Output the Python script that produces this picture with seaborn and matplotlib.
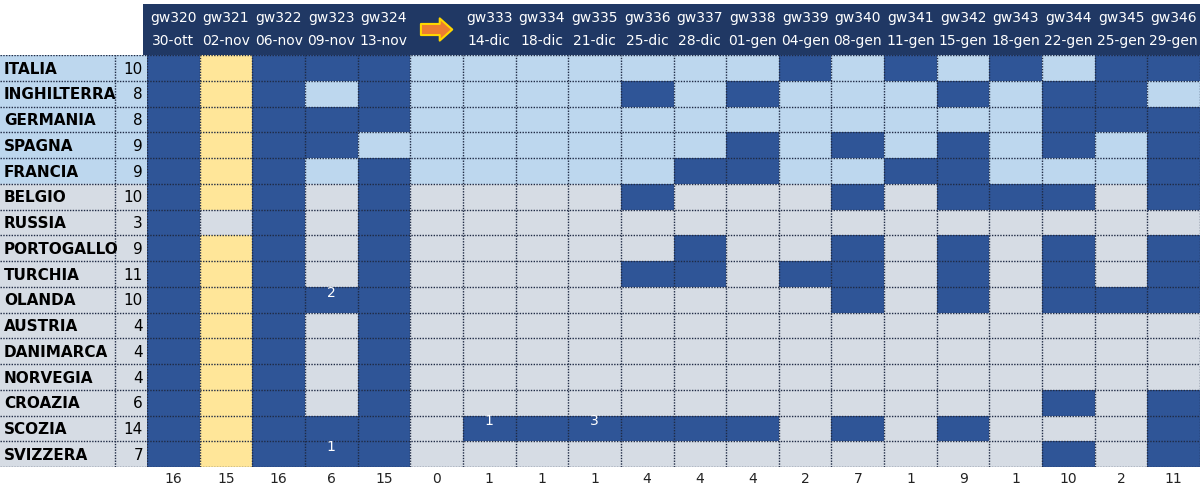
import numpy as np
import matplotlib
matplotlib.use("Agg")
import matplotlib.pyplot as plt
import seaborn as sns
from matplotlib.colors import ListedColormap

countries = ["ITALIA", "INGHILTERRA", "GERMANIA", "SPAGNA", "FRANCIA", "BELGIO", "RUSSIA",
             "PORTOGALLO", "TURCHIA", "OLANDA", "AUSTRIA", "DANIMARCA", "NORVEGIA",
             "CROAZIA", "SCOZIA", "SVIZZERA"]
row_totals = [10, 8, 8, 9, 9, 10, 3, 9, 11, 10, 4, 4, 4, 6, 14, 7]
gameweeks = ["gw320", "gw321", "gw322", "gw323", "gw324", "", "gw333", "gw334", "gw335",
             "gw336", "gw337", "gw338", "gw339", "gw340", "gw341", "gw342", "gw343",
             "gw344", "gw345", "gw346"]
dates = ["30-ott", "02-nov", "06-nov", "09-nov", "13-nov", "", "14-dic", "18-dic", "21-dic",
         "25-dic", "28-dic", "01-gen", "04-gen", "08-gen", "11-gen", "15-gen", "18-gen",
         "22-gen", "25-gen", "29-gen"]
col_totals = [16, 15, 16, 6, 15, 0, 1, 1, 1, 4, 4, 4, 2, 7, 1, 9, 1, 10, 2, 11]

# 1 = dark cell, 2 = yellow cell, 0 = empty
marks = [
    "12111000000010101011",  # ITALIA
    "12101000010100010110",  # INGHILTERRA
    "12111000000000000111",  # GERMANIA
    "12110000000101010101",  # SPAGNA
    "12101000001100110001",  # FRANCIA
    "12101000010001011101",  # BELGIO
    "10101000000000000000",  # RUSSIA
    "12101000001001010101",  # PORTOGALLO
    "12101000011011010101",  # TURCHIA
    "12111000000001010111",  # OLANDA
    "12101000000000000000",  # AUSTRIA
    "12101000000000000000",  # DANIMARCA
    "12101000000000000000",  # NORVEGIA
    "12101000000000000101",  # CROAZIA
    "12111011111101010001",  # SCOZIA
    "12111000000000000101",  # SVIZZERA
]
cell_labels = {(9, 3): "2", (15, 3): "1", (14, 6): "1", (14, 8): "3"}

LIGHT, GRAY, DARK, YELLOW, HEAD = "#BDD7EE", "#D6DCE4", "#2F5597", "#FFE699", "#203864"

codes = np.array([[int(c) for c in r] for r in marks])
# background code by row: 0 light blue (top 5), 1 gray
bg = np.array([0 if i < 5 else 1 for i in range(len(countries))])[:, None]
grid = np.where(codes == 1, 2, np.where(codes == 2, 3, bg))
annot = np.full(grid.shape, "", dtype=object)
for (r, c), t in cell_labels.items():
    annot[r, c] = t

cmap = ListedColormap([LIGHT, GRAY, DARK, YELLOW])
fig = plt.figure(figsize=(12, 4.93), dpi=100)
x0, ytop, ybot = 147 / 1200, 1 - 55 / 493, 1 - 467 / 493
ax = fig.add_axes([x0, ybot, 1 - x0, ytop - ybot])
sns.heatmap(grid, ax=ax, cmap=cmap, vmin=-0.5, vmax=3.5, cbar=False,
            annot=annot, fmt="", annot_kws={"color": "white", "fontsize": 10, "va": "bottom"})
ax.set_xticks([]); ax.set_yticks([])
nr, nc = grid.shape
for i in range(nr + 1):
    ax.axhline(i, color="#1F2A44", lw=1, ls=(0, (1, 1)))
for j in range(nc + 1):
    ax.axvline(j, color="#1F2A44", lw=1, ls=(0, (1, 1)))

# header
hx0 = 143 / 1200
hax = fig.add_axes([hx0, ytop, 1 - hx0, 1 - ytop - 4 / 493])
hax.set_facecolor(HEAD)
off = (147 - 143) / (1200 - 147) * nc
hax.set_xlim(-off, nc); hax.set_ylim(0, 2)
hax.set_xticks([]); hax.set_yticks([])
for s in hax.spines.values():
    s.set_visible(False)
for j in range(nc):
    hax.text(j + 0.5, 1.45, gameweeks[j], color="white", ha="center", va="center", fontsize=10)
    hax.text(j + 0.5, 0.55, dates[j], color="white", ha="center", va="center", fontsize=10)
hax.annotate("", xy=(5.85, 1.0), xytext=(5.15, 1.0),
             arrowprops=dict(arrowstyle="simple,head_width=1.6,head_length=0.9,tail_width=0.8",
                             fc="#ED7D31", ec="#FFD700", lw=1.5))

# left labels
lax = fig.add_axes([0, ybot, x0, ytop - ybot])
lax.set_xlim(0, 147); lax.set_ylim(nr, 0)
lax.set_xticks([]); lax.set_yticks([])
for s in lax.spines.values():
    s.set_visible(False)
for i, (name, tot) in enumerate(zip(countries, row_totals)):
    lax.axhspan(i, i + 1, color=LIGHT if i < 5 else GRAY)
    lax.text(4, i + 0.55, name, fontsize=11, fontweight="bold", va="center", color="black")
    lax.text(143, i + 0.55, str(tot), fontsize=11, va="center", ha="right", color="black")
    lax.axhline(i, color="#1F2A44", lw=1, ls=(0, (1, 1)))
lax.axhline(nr, color="#1F2A44", lw=1, ls=(0, (1, 1)))
lax.axvline(115, color="#1F2A44", lw=1, ls=(0, (1, 1)))

# column totals
tax = fig.add_axes([x0, 0, 1 - x0, ybot])
tax.set_xlim(0, nc); tax.set_ylim(0, 1)
tax.axis("off")
for j, t in enumerate(col_totals):
    tax.text(j + 0.5, 0.55, str(t), ha="center", va="center", fontsize=10, color="#222222")

fig.savefig("out.png", dpi=100)
